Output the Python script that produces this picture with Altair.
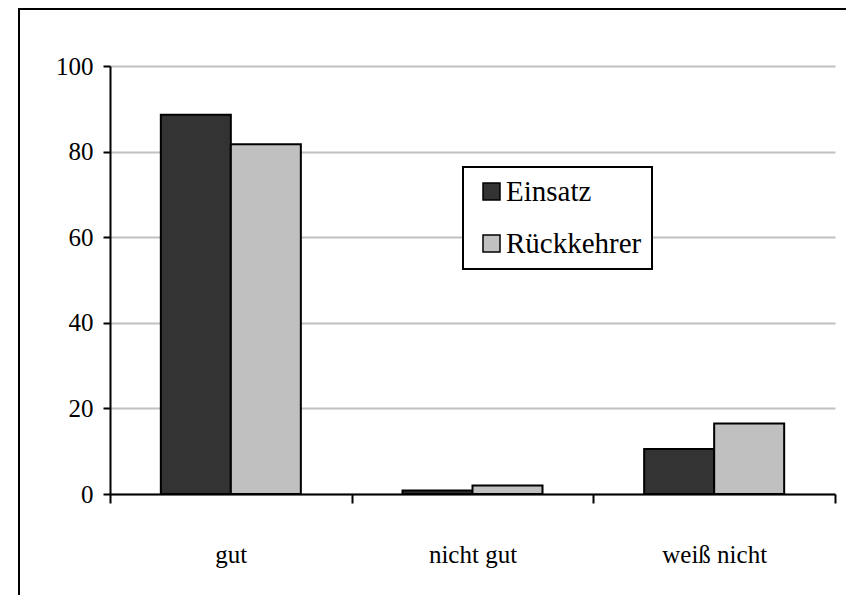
import altair as alt
import pandas as pd

categories = ["gut", "nicht gut", "weiß nicht"]
series = ["Einsatz", "Rückkehrer"]
einsatz = [88.6, 0.8, 10.5]
rueckkehrer = [81.7, 2.0, 16.5]
y_ticks = [0, 20, 40, 60, 80, 100]
colors = ["#333333", "#c0c0c0"]

rows = []
for c, a, b in zip(categories, einsatz, rueckkehrer):
    rows.append({"Kategorie": c, "Gruppe": series[0], "Wert": a})
    rows.append({"Kategorie": c, "Gruppe": series[1], "Wert": b})
df = pd.DataFrame(rows)

FONT = "Times New Roman, Liberation Serif, Times, serif"

bars = alt.Chart(df).mark_bar(stroke="black", strokeWidth=2, opacity=1).encode(
    x=alt.X(
        "Kategorie:N", sort=categories, title=None,
        scale=alt.Scale(paddingInner=0, paddingOuter=0),
        axis=alt.Axis(
            labelAngle=0, tickBand="extent", tickSize=9, tickWidth=2,
            tickColor="black", domainWidth=2, domainColor="black",
            labelFont=FONT, labelFontSize=25, labelColor="black",
            labelPadding=39, grid=False,
        ),
    ),
    xOffset=alt.XOffset(
        "Gruppe:N", sort=series,
        scale=alt.Scale(paddingInner=0, paddingOuter=0.726),
    ),
    y=alt.Y(
        "Wert:Q", title=None,
        scale=alt.Scale(domain=[0, 100], nice=False, zero=True),
        axis=alt.Axis(
            values=y_ticks, tickSize=7, tickWidth=2, tickColor="black",
            domainWidth=2, domainColor="black", labelFont=FONT,
            labelFontSize=25, labelColor="black", labelPadding=10,
            grid=True, gridColor="#c0c0c0", gridWidth=2,
        ),
    ),
    color=alt.Color(
        "Gruppe:N", sort=series,
        scale=alt.Scale(domain=series, range=colors),
        legend=alt.Legend(
            title=None, orient="none", legendX=353, legendY=101,
            symbolType="square", symbolSize=289, symbolStrokeColor="black",
            symbolStrokeWidth=1.5, symbolOpacity=1, symbolOffset=4,
            labelFont=FONT, labelFontSize=29, labelColor="black",
            labelOffset=0, rowPadding=22, padding=10,
            strokeColor="black", fillColor="white",
            labelExpr="datum.label + '\u00a0'",
        ),
    ),
)

frame = alt.Chart(pd.DataFrame({"f": [0]})).mark_rect(
    filled=False, stroke="black", strokeWidth=2
).encode(
    x=alt.value(-91), x2=alt.value(800), y=alt.value(-57), y2=alt.value(600)
)

chart = alt.layer(frame, bars).properties(
    width=725, height=428,
    padding={"left": 102, "top": 58, "right": 11, "bottom": 101},
    autosize="none",
).configure_view(stroke=None).configure_legend(strokeWidth=2)

chart.save("out.html", embed_options={"renderer": "svg", "actions": False})
